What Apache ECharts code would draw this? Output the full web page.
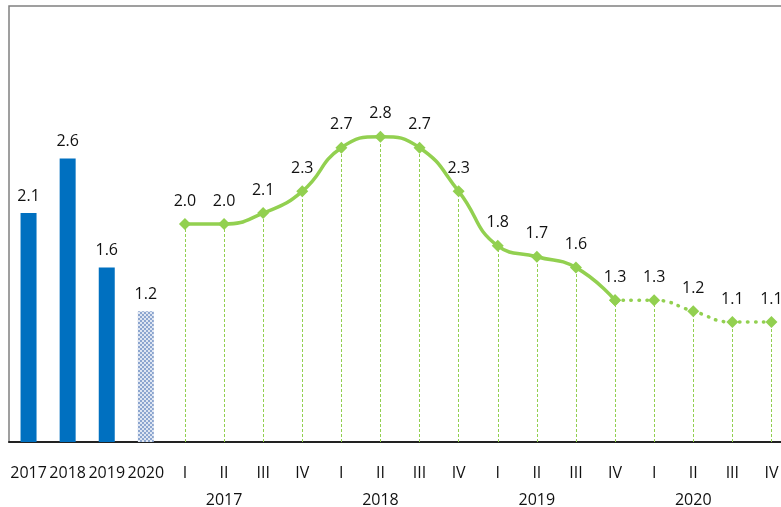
<!DOCTYPE html>
<html>
<head>
<meta charset="utf-8">
<script src="https://cdn.jsdelivr.net/npm/echarts@6/dist/echarts.min.js"></script>
<style>
  html, body { margin: 0; padding: 0; background: #fff; }
  #myChart { width: 781px; height: 507px; }
</style>
</head>
<body>
<div id="myChart"></div>
<script>
// categories: 4 annual bars then 16 quarters
var quarterLabels = ['2017', '2018', '2019', '2020',
  'I', 'II', 'III', 'IV', 'I', 'II', 'III', 'IV',
  'I', 'II', 'III', 'IV', 'I', 'II', 'III', 'IV'];
var yearLabels = ['', '', '', '',
  '', '2017', '', '', '', '2018', '', '', '', '2019', '', '', '', '2020', '', ''];

var annualValues = [2.1, 2.6, 1.6, 1.2];
var quarterValues = [2.0, 2.0, 2.1, 2.3, 2.7, 2.8, 2.7, 2.3, 1.8, 1.7, 1.6, 1.3, 1.3, 1.2, 1.1, 1.1];
var lastActual = 11; // 2019 IV, after this the line is a forecast (dotted)

var green = '#92D050';
var blue = '#0070C0';

// patterned fill for the forecast year bar
function makePattern() {
  var c = document.createElement('canvas');
  c.width = 4; c.height = 4;
  var ctx = c.getContext('2d');
  ctx.fillStyle = '#dfe6f2';
  ctx.fillRect(0, 0, 4, 4);
  ctx.fillStyle = '#8da6cf';
  ctx.fillRect(0, 0, 2, 2);
  ctx.fillRect(2, 2, 2, 2);
  return c;
}

var barData = [];
for (var i = 0; i < quarterLabels.length; i++) {
  if (i < annualValues.length) {
    var item = { value: annualValues[i] };
    if (i == annualValues.length - 1) {
      item.itemStyle = { color: { image: makePattern(), repeat: 'repeat' } };
    }
    barData.push(item);
  } else {
    barData.push('-');
  }
}

var off = annualValues.length;
var solidData = [], dottedData = [], drops = [];
for (var i = 0; i < quarterLabels.length; i++) {
  var q = i - off;
  if (q < 0) { solidData.push('-'); dottedData.push('-'); continue; }
  var v = quarterValues[q];
  solidData.push(q <= lastActual ? v : '-');
  if (q == lastActual) dottedData.push({ value: v, label: { show: false } });
  else dottedData.push(q > lastActual ? v : '-');
  drops.push([{ coord: [i, 0] }, { coord: [i, v] }]);
}

var labelStyle = { show: true, position: 'top', distance: 9, color: '#111', fontSize: 16, fontFamily: 'Open Sans', formatter: function (p) { return p.value.toFixed(1); } };

var myChart = echarts.init(document.getElementById('myChart'), null, { renderer: 'canvas' });
myChart.setOption({
  animation: false,
  grid: { left: 9, top: 6, width: 782, height: 436, outerBoundsMode: 'none', containLabel: false,
    show: true, borderColor: '#808080', borderWidth: 1.5 },
  xAxis: {
    type: 'category',
    data: quarterLabels,
    axisLine: { lineStyle: { color: '#222', width: 2 } },
    axisTick: { show: false },
    axisLabel: {
      interval: 0, color: '#111', fontSize: 16, fontFamily: 'Open Sans', margin: 18, lineHeight: 27,
      formatter: function (val, idx) { return yearLabels[idx] ? val + '\n' + yearLabels[idx] : val; }
    }
  },
  yAxis: { type: 'value', min: 0, max: 4, show: false, splitLine: { show: false } },
  series: [
    {
      type: 'bar', data: barData, barWidth: 16,
      itemStyle: { color: blue },
      label: labelStyle
    },
    {
      type: 'line', data: solidData, smooth: true,
      symbol: 'diamond', symbolSize: 12,
      lineStyle: { color: green, width: 3.5 },
      itemStyle: { color: green },
      label: labelStyle,
      markLine: {
        silent: true, symbol: ['none', 'none'], label: { show: false },
        lineStyle: { color: green, type: [3, 2], width: 1 },
        data: drops
      }
    },
    {
      type: 'line', data: dottedData, smooth: true,
      symbol: 'diamond', symbolSize: 12,
      lineStyle: { color: green, width: 3.5, type: [0.5, 7.5], cap: 'round' },
      itemStyle: { color: green },
      label: labelStyle
    }
  ]
});
</script>
</body>
</html>
